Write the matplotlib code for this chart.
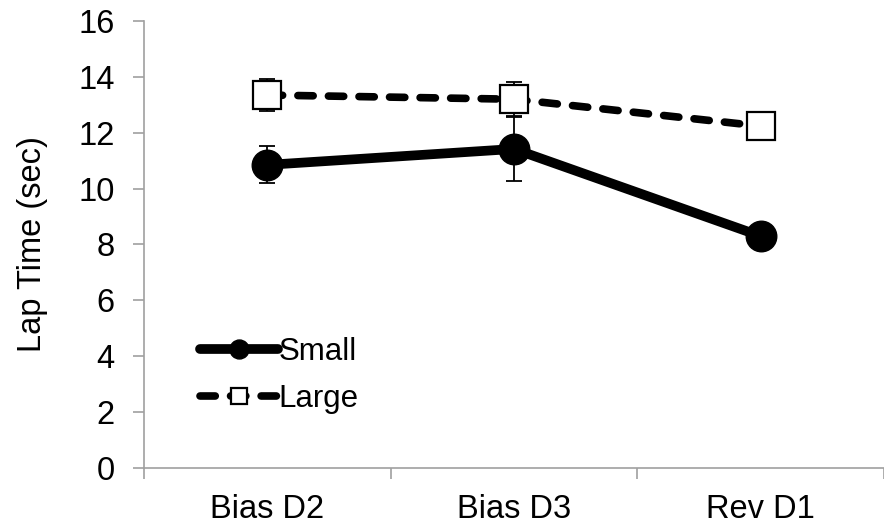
import matplotlib.pyplot as plt

plt.rcParams['font.family'] = ['Liberation Sans', 'DejaVu Sans']

sessions    = ['Bias D2', 'Bias D3', 'Rev D1']
small_mean  = [10.85, 11.42, 8.30]
small_err   = [0.66, 1.15, 0.20]
large_mean  = [13.35, 13.20, 12.24]
large_err   = [0.58, 0.60, 0.20]

FS = 23.5
x = range(len(sessions))

fig = plt.figure(figsize=(8.84, 5.25), dpi=100)
ax = fig.add_axes([0.1629, 0.1086, 0.8371, 0.8514])

# ── Small ─────────────────────────────────────────────────────────────
ax.errorbar(x, small_mean, yerr=small_err, fmt='none', ecolor='black',
            elinewidth=1.3, capsize=6, capthick=1.3, zorder=2)
ax.plot(x, small_mean, color='black', lw=7, marker='o', markersize=22,
        markerfacecolor='black', markeredgecolor='black',
        solid_capstyle='round', label='Small', zorder=3)

# ── Large ─────────────────────────────────────────────────────────────
ax.errorbar(x, large_mean, yerr=large_err, fmt='none', ecolor='black',
            elinewidth=1.3, capsize=6, capthick=1.3, zorder=4)
ax.plot(x, large_mean, color='black', lw=5.5, dashes=(2, 2),
        dash_capstyle='round', marker='s', markersize=19.5,
        markerfacecolor='white', markeredgecolor='black', markeredgewidth=1.6,
        label='Large', zorder=5)

ax.set_xlim(-0.5, 2.47)
ax.set_ylim(0, 16)
ax.set_yticks(range(0, 17, 2))
ax.set_xticks([-0.5, 0.5, 1.5, 2.5])
ax.set_xticklabels([])
ax.set_xticks(list(x), minor=True)
ax.set_xticklabels(sessions, minor=True, fontsize=FS)
ax.tick_params(axis='x', which='minor', length=0, pad=19)
ax.tick_params(axis='x', which='major', length=8, color='#a0a0a0', width=1.2)
ax.tick_params(axis='y', length=8, color='#a0a0a0', width=1.2, labelsize=FS, pad=13)

for side in ['top', 'right']:
    ax.spines[side].set_visible(False)
for side in ['left', 'bottom']:
    ax.spines[side].set_color('#a0a0a0')
    ax.spines[side].set_linewidth(1.2)

ax.set_ylabel('Lap Time (sec)', fontsize=FS, labelpad=22)

ax.legend(loc='lower left', bbox_to_anchor=(0.055, 0.085), frameon=False,
          fontsize=FS - 1, handlelength=2.5, handletextpad=0.0, markerscale=0.62,
          labelspacing=0.55, borderpad=0)

fig.savefig('out.png', dpi=100)
plt.close()
